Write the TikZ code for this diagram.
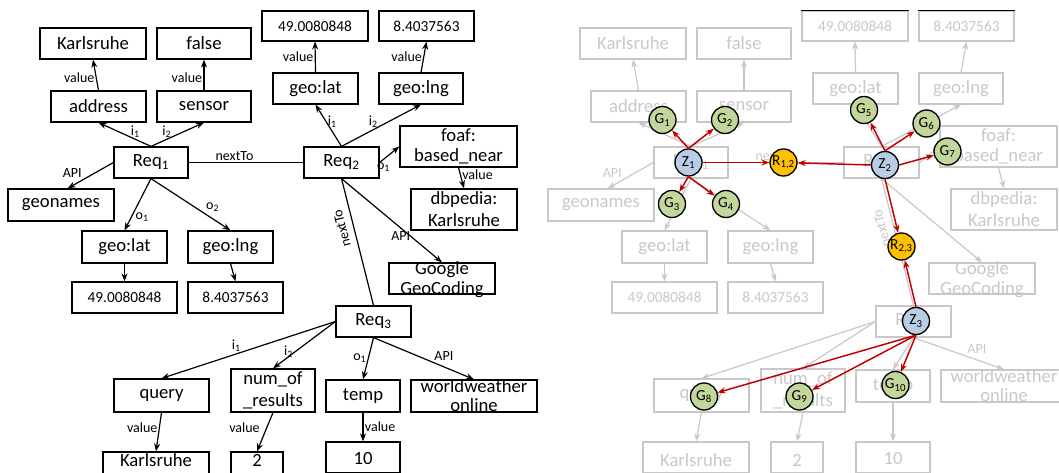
\documentclass[tikz,border=0pt]{standalone}
\usepackage{fontspec}
\setmainfont{Carlito}
\usetikzlibrary{arrows.meta}

\definecolor{fadegray}{RGB}{200,200,200}
\definecolor{zblue}{RGB}{185,205,229}
\definecolor{ggreen}{RGB}{195,214,155}
\definecolor{rorange}{RGB}{255,192,0}
\definecolor{linkred}{RGB}{192,0,0}

% подписи рёбер: показать или спрятать
\newcommand\shown[1]{#1}
\newcommand\hidden[1]{}

\tikzset{
  box/.style={draw, rectangle, inner sep=1pt, line width=0.9pt, align=center,
    font=\fontsize{14}{16}\selectfont},
  numbox/.style={box, font=\fontsize{11.5}{13}\selectfont},
  bw/.style={minimum width=#1*0.75pt},
  bh/.style={minimum height=#1*0.75pt},
  twoline/.style={inner sep=0pt, align=center, font=\fontsize{14}{15}\selectfont},
  lbl/.style={font=\fontsize{10.5}{12}\selectfont, inner sep=1pt},
  link/.style={->, line width=0.9pt},
  circ/.style={circle, draw=black, text=black, line width=1pt, minimum size=20.25pt,
    inner sep=0pt, font=\fontsize{11.5}{13}\selectfont},
  zcirc/.style={circ, fill=zblue},
  gcirc/.style={circ, fill=ggreen},
  rcirc/.style={circ, fill=rorange},
  redlink/.style={-{Stealth[length=6pt,width=4.5pt]}, linkred, line width=1.1pt}
}

\begin{document}
\begin{tikzpicture}[x=0.75pt, y=-0.75pt, >={Stealth[length=6pt,width=4.5pt]}]
    \useasboundingbox (0,0) rectangle (1059,473);
    \clip (0,0) rectangle (1059,473);

    % два одинаковых графа: слева чёрный, справа бледный
    \foreach \p/\dx/\c/\lv/\bx/\by in {L/0/black/\shown/0/0, R/540/fadegray/\hidden/-10/-10} {
    \begin{scope}[color=\c]
    % Req1 и его параметры
    \node[box, bw=106, bh=31] (karla\p) at ({\dx+93},43.5) {Karlsruhe};
    \node[box, bw=94, bh=31] (false\p) at ({\dx+204},43.5) {false};
    \node[box, bw=95, bh=31] (addr\p) at ({\dx+98.5},106.5) {address};
    \node[box, bw=94, bh=31] (sens\p) at ({\dx+204},106.5) {sensor};
    \node[box, bw=74, bh=31] (req1\p) at ({\dx+151},162.5) {Req\textsubscript{1}};
    \node[box, bw=106, bh=32] (geon\p) at ({\dx+61},205) {geonames};
    \node[box, bw=85, bh=32] (lata\p) at ({\dx+124.5},247) {geo:lat};
    \node[box, bw=85, bh=32] (lnga\p) at ({\dx+230.5},247) {geo:lng};
    \node[numbox, bw=105, bh=31] (latva\p) at ({\dx+124.5},297.5) {49.0080848};
    \node[numbox, bw=95, bh=31] (lngva\p) at ({\dx+235.5},297.5) {8.4037563};

    % Req2 и его параметры
    \node[box, bw=75, bh=31] (req2\p) at ({\dx+341.5},162.5) {Req\textsubscript{2}};
    \node[box, bw=85, bh=31] (latb\p) at ({\dx+315.5},88.5) {geo:lat};
    \node[box, bw=84, bh=31] (lngb\p) at ({\dx+421},88.5) {geo:lng};
    \node[numbox, bw=106, bh=30] (latvb\p) at ({\dx+315},26) {49.0080848};
    \node[numbox, bw=95, bh=30] (lngvb\p) at ({\dx+426.5},26) {8.4037563};
    \node[box, bw=117, bh=41, font=\fontsize{14}{15.5}\selectfont] (foaf\p) at ({\dx+458.5},146.5) {foaf:\\based\_near};
    \node[box, bw=106, bh=41, font=\fontsize{14}{16.5}\selectfont] (dbp\p) at ({\dx+464},209.5) {dbpedia:\\Karlsruhe};
    \node[box, bw=106, bh=31] (goog\p) at ({\dx+442},278.5) {};
    \node[twoline] (googt\p) at ({\dx+442},280) {Google\\GeoCoding};

    % Req3 и его параметры
    \node[box, bw=75, bh=31] (req3\p) at ({\dx+373.5},321.5) {Req\textsubscript{3}};
    \node[box, bw=95, bh=33] (query\p) at ({\dx+161.5},395.5) {query};
    \node[box, bw=84, bh=43, font=\fontsize{14}{16.5}\selectfont] (num\p) at ({\dx+273+(\bx)},390.5) {num\_of\\\_results};
    \node[box, bw=74, bh=32] (temp\p) at ({\dx+363+(\bx)},{396+(\by)}) {temp};
    \node[box, bw=126, bh=32] (wwo\p) at ({\dx+474+(\bx)},{396+(\by)}) {};
    \node[twoline, font=\fontsize{14}{14.5}\selectfont] (wwot\p) at ({\dx+474+(\bx)},{395.5+(\by)}) {worldweather\\online};
    % нижний ряд уходит за край
    \node[box, bw=106, bh=31] (karlb\p) at ({\dx+156},{467.5+(\by)}) {};
    \node[box, bw=52, bh=31] (two\p) at ({\dx+257},{467.5+(\by)}) {};
    \node[box, bw=74, bh=31] (ten\p) at ({\dx+363+(\bx)},457.5) {};
    \node[twoline] (karlbt\p) at ({\dx+156},460) {Karlsruhe};
    \node[twoline] (twot\p) at ({\dx+257},460) {2};
    \node[twoline] (tent\p) at ({\dx+363+(\bx)},459) {10};

    % рёбра Req1
    \draw[link] (addr\p.north) -- node[lbl, pos=.4, left] {\lv{value}} (karla\p.south);
    \draw[link] (sens\p.north) -- node[lbl, pos=.4, left] {\lv{value}} (false\p.south);
    \draw[link] (req1\p.north) -- node[lbl, pos=.3, above] {\lv{i\textsubscript{1}}} (addr\p.south);
    \draw[link] (req1\p.north) -- node[lbl, pos=.3, above] {\lv{i\textsubscript{2}}} (sens\p.south);
    \draw[link] (req1\p.west) -- node[lbl, pos=.65, above left] {API} ([xshift=5pt]geon\p.north);
    \draw[link] (req1\p.south) -- node[lbl, pos=.75, right=2pt] {\lv{o\textsubscript{1}}} (lata\p.north);
    \draw[link] (req1\p.south) -- node[lbl, pos=.67, above right] {\lv{o\textsubscript{2}}} (lnga\p.north);
    \draw[link] (lata\p.south) -- (latva\p.north);
    \draw[link] (lnga\p.south) -- (lngva\p.north);
    \draw[line width=0.9pt] (req1\p.east) -- node[lbl, pos=.4, above] {nextTo} (req2\p.west);

    % рёбра Req2
    \draw[link] (req2\p.north) -- node[lbl, pos=.6, right] {\lv{i\textsubscript{1}}} (latb\p.south);
    \draw[link] (req2\p.north) -- node[lbl, pos=.4, above] {\lv{i\textsubscript{2}}} (lngb\p.south);
    \draw[link] (latb\p.north) -- node[lbl, pos=.5, left] {\lv{value}} (latvb\p.south);
    \draw[link] (lngb\p.north) -- node[lbl, pos=.5, left] {\lv{value}} (lngvb\p.south);
    \draw[link] (req2\p.east) -- node[lbl, pos=.2, below=1pt] {\lv{o\textsubscript{1}}} (foaf\p.west);
    \draw[link] (foaf\p.south) -- node[lbl, pos=.35, right] {\lv{value}} (dbp\p.north);
    \draw[link] (req2\p.south) -- node[lbl, pos=.69, left, inner sep=0pt] {\lv{API}} (goog\p.north);
    \draw[line width=0.9pt] (req3\p.north) -- node[lbl, pos=.63, sloped, allow upside down, above=4pt] {nextTo} (req2\p.south);

    % рёбра Req3
    \draw[link] (req3\p.west) -- node[lbl, pos=.57, above] {\lv{i\textsubscript{1}}} (query\p.north);
    \draw[link] (req3\p.west) -- node[lbl, pos=.65, left] {\lv{i\textsubscript{2}}} (num\p.north);
    \draw[link] (req3\p.south) -- node[lbl, pos=.5, left] {\lv{o\textsubscript{1}}} (temp\p.north);
    \draw[link] (req3\p.south) -- node[lbl, pos=.7, above=3pt] {API} (wwo\p.north);
    \draw[link] (query\p.south) -- node[lbl, pos=.4, left] {\lv{value}} (karlb\p.north);
    \draw[link] (num\p.south) -- node[lbl, pos=.38, left=4pt] {\lv{value}} (two\p.north);
    \draw[link] (temp\p.south) -- node[lbl, pos=.5, right] {\lv{value}} (ten\p.north);
    \end{scope}
    }

    % чёрные верхние кромки справа
    \draw[line width=0.9pt] (latvbR.north west) -- (latvbR.north east);
    \draw[line width=0.9pt] (lngvbR.north west) -- (lngvbR.north east);

    % кружки поверх правого графа
    \node[zcirc] (z1) at (688.5,162.5) {Z\textsubscript{1}};
    \node[gcirc] (g1) at (662.5,120) {G\textsubscript{1}};
    \node[gcirc] (g2) at (725,120) {G\textsubscript{2}};
    \node[gcirc] (g3) at (672,204) {G\textsubscript{3}};
    \node[gcirc] (g4) at (726,204) {G\textsubscript{4}};
    \node[rcirc] (r12) at (783.5,162.5) {R\textsubscript{1,2}};
    \node[zcirc] (z2) at (885,165) {Z\textsubscript{2}};
    \node[gcirc] (g5) at (864,110) {G\textsubscript{5}};
    \node[gcirc] (g6) at (926.5,123.5) {G\textsubscript{6}};
    \node[gcirc] (g7) at (947.5,151.5) {G\textsubscript{7}};
    \node[rcirc] (r23) at (901.5,246.5) {R\textsubscript{2,3}};
    \node[zcirc] (z3) at (916,321) {Z\textsubscript{3}};
    \node[gcirc] (g8) at (704,396.5) {G\textsubscript{8}};
    \node[gcirc] (g9) at (799.5,396.5) {G\textsubscript{9}};
    \node[gcirc] (g10) at (895.5,385) {G\textsubscript{10}};

    % красные стрелки
    \draw[redlink] (z1.north) -- (g1);
    \draw[redlink] (z1.north) -- (g2);
    \draw[redlink] (z1.south) -- (g3);
    \draw[redlink] (z1.south) -- (g4);
    \draw[redlink] (z1.east) -- (r12);
    \draw[redlink] (z2.west) -- (r12);
    \draw[redlink] (z2.north) -- (g5);
    \draw[redlink] (z2.north) -- (g6);
    \draw[redlink] (z2.east) -- (g7);
    \draw[redlink] (z2.south) -- (r23);
    \draw[redlink] (z3.north) -- (r23);
    \draw[redlink] (z3.south) -- (g8);
    \draw[redlink] (z3.south) -- (g9);
    \draw[redlink] (z3.south) -- (g10);
\end{tikzpicture}
\end{document}
